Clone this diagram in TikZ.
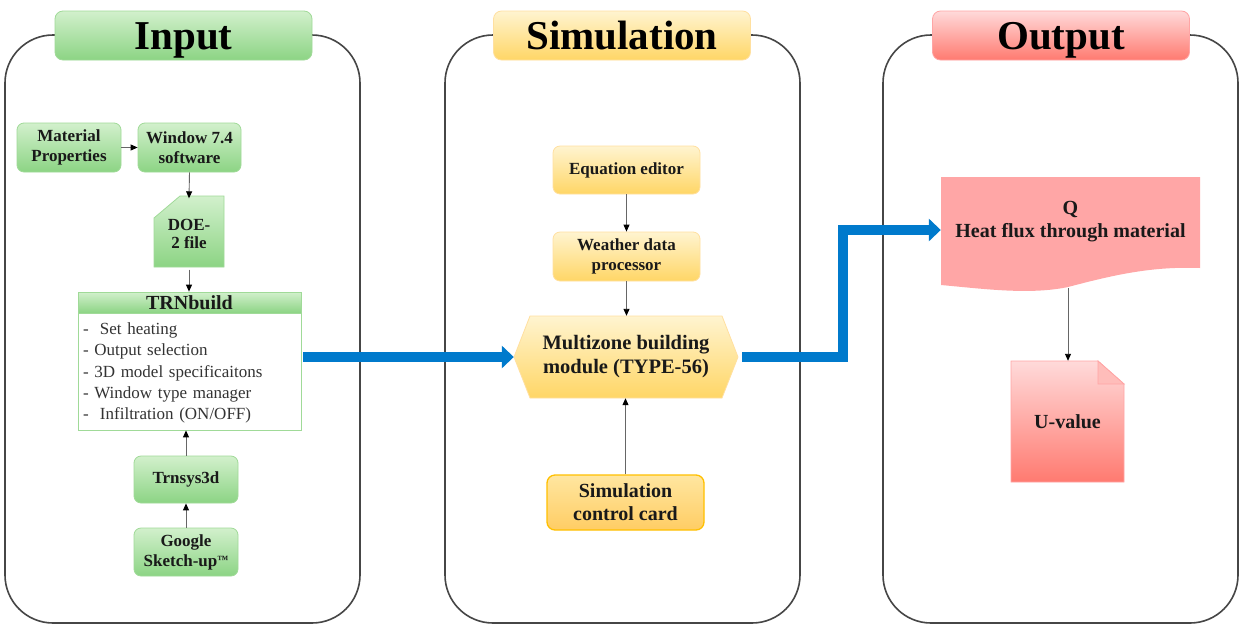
\documentclass[tikz,border=0pt]{standalone}
\usepackage{fontspec}
\setmainfont{Liberation Serif}
\usetikzlibrary{arrows.meta}
\definecolor{gtop}{RGB}{210,240,204}
\definecolor{gbot}{RGB}{140,212,132}
\definecolor{gline}{RGB}{160,218,152}
\definecolor{ytop}{RGB}{255,244,208}
\definecolor{ybot}{RGB}{255,214,102}
\definecolor{yline}{RGB}{255,224,160}
\definecolor{ctop}{RGB}{255,230,160}
\definecolor{cbot}{RGB}{255,205,100}
\definecolor{cline}{RGB}{255,192,0}
\definecolor{rtop}{RGB}{255,218,218}
\definecolor{rbot}{RGB}{255,122,112}
\definecolor{rline}{RGB}{255,165,165}
\definecolor{qfill}{RGB}{255,166,166}
\definecolor{flow}{RGB}{0,122,204}
\definecolor{panelline}{RGB}{70,70,70}
\definecolor{txt}{RGB}{25,25,25}
\begin{document}
\begin{tikzpicture}[x=1pt,y=-1pt,
  panel/.style={draw=panelline, line width=1.6pt, rounded corners=48pt, minimum width=355pt, minimum height=588pt, inner sep=0pt},
  titlebox/.style={rounded corners=8pt, line width=0.8pt, minimum width=257pt, minimum height=49pt, inner sep=0pt, text height=27pt, text depth=0pt, font=\fontsize{41}{45}\selectfont\bfseries, text=black},
  gbox/.style={rounded corners=7pt, draw=gline, line width=0.8pt, top color=gtop, bottom color=gbot, font=\fontsize{17}{20}\selectfont\bfseries, align=center, inner sep=0pt, text=txt},
  ybox/.style={rounded corners=7pt, draw=yline, line width=0.8pt, top color=ytop, bottom color=ybot, font=\fontsize{17}{20}\selectfont\bfseries, align=center, inner sep=0pt, text=txt},
  plain/.style={inner sep=0pt, align=center, text=txt},
  thinarrow/.style={draw=black!60, line width=0.9pt, -{Triangle[length=7pt,width=6pt,fill=black,color=black]}},
  flowarrow/.style={draw=flow, line width=10pt, line join=miter, -{Triangle[length=12pt,width=22pt]}}
]
\useasboundingbox (0,0) rectangle (1245,630);
\fill[white] (0,0) rectangle (1245,630);

% panels
\node[panel] (pin) at (182.5,329) {};
\node[panel] (psim) at (622.5,329) {};
\node[panel] (pout) at (1060.5,329) {};

% titles
\node[titlebox, draw=gline, top color=gtop, bottom color=gbot] (tin) at (183.5,35.5) {Input};
\node[titlebox, draw=yline, top color=ytop, bottom color=ybot] (tsim) at (622,35.5) {Simulation};
\node[titlebox, draw=rline, top color=rtop, bottom color=rbot] (tout) at (1061,35.5) {Output};

% ---------- Input column ----------
\node[gbox, minimum width=104pt, minimum height=49pt] (mat) at (69,147.5) {Material\\Properties};
\node[gbox, minimum width=103pt, minimum height=49pt] (win) at (189.5,147.5) {Window 7.4\\software};

\path[draw=gline, line width=0.8pt, top color=gtop, bottom color=gbot]
  (154,218) -- (180,196) -- (224,196) -- (224,267) -- (154,267) -- cycle;
\node[plain, font=\fontsize{17}{18}\selectfont\bfseries, minimum width=70pt, minimum height=71pt] (doe) at (189,234) {DOE-\\2 file};

\node[draw=gline, line width=0.8pt, fill=white, minimum width=223pt, minimum height=117pt, inner sep=0pt] (trnb) at (189.5,371.5) {};
\node[draw=gline, line width=0.8pt, top color=gtop, bottom color=gbot, minimum width=223pt, minimum height=21pt, inner sep=0pt, font=\fontsize{20}{22}\selectfont\bfseries, text=txt] (trnh) at (189.5,302.5) {TRNbuild};
\node[inner sep=0pt, align=left, text width=213pt, font=\fontsize{17}{21.2}\selectfont, text=black!80] (trnt) at (189.5,373) {-\ \ Set heating\\- Output selection\\- 3D model specificaitons\\- Window type manager\\-\ \ Infiltration (ON/OFF)};

\node[gbox, minimum width=104pt, minimum height=47pt] (tr3) at (186,479.5) {Trnsys3d};
\node[gbox, minimum width=104pt, minimum height=48pt] (ggl) at (186,552) {Google\\Sketch-up\raisebox{3pt}{\fontsize{11}{11}\selectfont ™}};

\draw[thinarrow] (mat.east) -- (win.west);
\draw[thinarrow] (win.south) -- (doe.north);
\draw[thinarrow] (doe.south) -- (trnh.north -| doe.south);
\draw[thinarrow] (tr3.north) -- (tr3.north |- trnb.south);
\draw[thinarrow] (ggl.north) -- (tr3.south);

% ---------- Simulation column ----------
\node[ybox, minimum width=147pt, minimum height=48pt] (eq) at (626.5,170) {Equation editor};
\node[ybox, minimum width=147pt, minimum height=49pt] (wd) at (626.5,256.5) {Weather data\\processor};

\path[draw=yline, line width=0.8pt, top color=ytop, bottom color=ybot]
  (514,357) -- (530,316) -- (722,316) -- (738,357) -- (722,398) -- (530,398) -- cycle;
\node[plain, minimum width=224pt, minimum height=82pt, font=\fontsize{20.5}{24}\selectfont\bfseries] (mz) at (626,357) {Multizone building\\module (TYPE-56)};

\node[rounded corners=8pt, draw=cline, line width=1.3pt, top color=ctop, bottom color=cbot, minimum width=157pt, minimum height=55pt, inner sep=0pt, align=center, font=\fontsize{20}{23}\selectfont\bfseries, text=txt] (cc) at (625.5,502.5) {Simulation\\control card};

\draw[thinarrow] (eq.south) -- (wd.north);
\draw[thinarrow] (wd.south) -- (mz.north -| wd.south);
\draw[thinarrow] (cc.north) -- (mz.south -| cc.north);

% ---------- Output column ----------
\fill[qfill] (941,177) -- (1200,177) -- (1200,268)
  .. controls (1150,266) and (1110,276) .. (1068,287)
  .. controls (1030,295) and (985,289) .. (941,285) -- cycle;
\node[plain, minimum width=259pt, minimum height=90pt, font=\fontsize{20}{23}\selectfont\bfseries] (q) at (1070.5,222) {Q\\Heat flux through material};
\coordinate (qb) at (1068,288);

\path[draw=rline, line width=0.8pt, top color=rtop, bottom color=rbot]
  (1011,361) -- (1098,361) -- (1124,384) -- (1124,482) -- (1011,482) -- cycle;
\path[draw=rline, line width=0.8pt, fill=rtop!70!rbot] (1098,361) -- (1098,384) -- (1124,384) -- cycle;
\node[plain, minimum width=113pt, minimum height=121pt, font=\fontsize{20}{22}\selectfont\bfseries] (uv) at (1067.5,421.5) {U-value};

\draw[thinarrow] (qb) -- (uv.north -| qb);

% ---------- flow arrows ----------
\coordinate (k1) at (843,357);
\coordinate (k2) at (843,230);
\draw[flowarrow] (trnb.east |- mz.west) ++(2,0) -- (mz.west);
\draw[flowarrow] ([xshift=4pt]mz.east) -- (k1) -- (k2) -- (q.west |- k2);
\end{tikzpicture}
\end{document}
